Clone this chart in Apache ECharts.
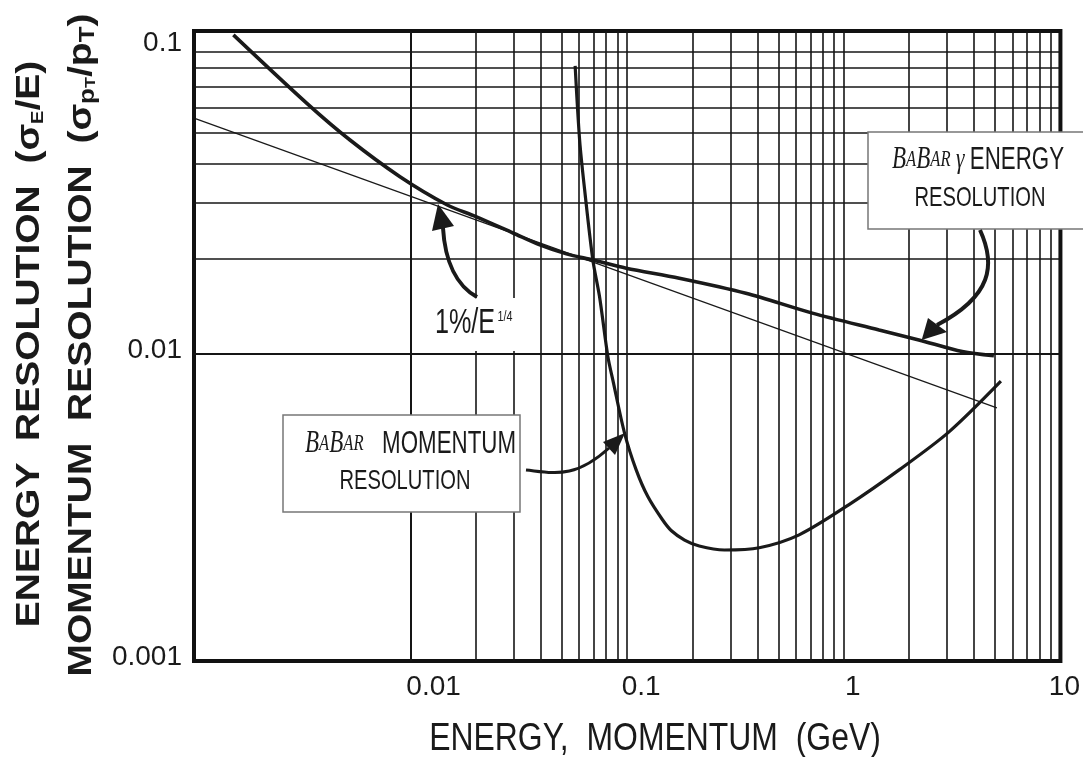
<!DOCTYPE html>
<html>
<head>
<meta charset="utf-8">
<script src="https://cdn.jsdelivr.net/npm/echarts@6/dist/echarts.min.js"></script>
<style>
html,body{margin:0;padding:0;background:#fff;}
#chart{width:1083px;height:757px;}
</style>
</head>
<body>
<div id="chart"></div>
<script>
// ---- data ----
const xTickValues = [0.01, 0.1, 1, 10];
const xTickLabels = ['0.01', '0.1', '1', '10'];
const yTickValues = [0.1, 0.01, 0.00107];
const yTickLabels = ['0.1', '0.01', '0.001'];

const xGridValues = [0.002,0.003,0.004,0.005,0.006,0.007,0.008,0.009,
  0.01,0.02,0.03,0.04,0.05,0.06,0.07,0.08,0.09,
  0.1,0.2,0.3,0.4,0.5,0.6,0.7,0.8,0.9,
  1,2,3,4,5,6,7,8,9];
const yGridValues = [0.002,0.003,0.004,0.005,0.006,0.007,0.008,0.009,
  0.01,0.02,0.03,0.04,0.05,0.06,0.07,0.08,0.09];

// BaBar gamma energy resolution (thick upper curve)
const gammaEnergyRes = [
  [0.00152,0.1019],[0.00332,0.0619],[0.00525,0.0474],[0.00893,0.0363],
  [0.0147,0.0296],[0.0199,0.0272],[0.0297,0.0241],[0.0395,0.0221],
  [0.0524,0.0207],[0.0694,0.0198],[0.099,0.01866],[0.174,0.01735],
  [0.353,0.01555],[0.716,0.01345],[1.455,0.0119],[2.22,0.01107],
  [3.52,0.01017],[4.93,0.00986]
];
// BaBar momentum resolution (steep curve with minimum)
const momentumRes = [
  [0.0575,0.0813],[0.0603,0.0474],[0.0636,0.0330],[0.0694,0.0198],
  [0.0745,0.01517],[0.0814,0.00981],[0.0858,0.00828],[0.0972,0.00562],
  [0.110,0.0043],[0.1245,0.00354],[0.1455,0.00299],[0.160,0.00276],
  [0.184,0.00258],[0.215,0.00247],[0.281,0.0024],[0.407,0.00244],
  [0.622,0.00268],[1.057,0.00334],[1.80,0.0043],[3.06,0.00567],[5.31,0.0082]
];
// thin reference line 1%/E^(1/4)
const stochasticTerm = [[0.001,0.0556],[5.09,0.00675]];

// ---- chart ----
const chart = echarts.init(document.getElementById('chart'), null, {renderer:'canvas'});
const INK = '#1a1a1a';
const NARROW = '"Liberation Sans Narrow","Liberation Sans",Arial,sans-serif';
const SANS = '"Liberation Sans",Arial,sans-serif';
const SERIF = '"Liberation Serif","DejaVu Serif",serif';

function idxOf(arr, v){
  for (let i=0;i<arr.length;i++){ if (Math.abs(Math.log10(arr[i]) - Math.log10(v)) < 1e-6) return i; }
  return -1;
}
const xRich = {};
const xPad = [46, 28, 18, 8];
xTickLabels.forEach((t,i)=>{ xRich['x'+i] = {fontFamily:NARROW, fontSize:28, color:INK, padding:[0,0,0,xPad[i]]}; });
const yRich = {
  y0:{fontFamily:NARROW, fontSize:28, color:INK, padding:[11,0,0,0]},
  y1:{fontFamily:NARROW, fontSize:28, color:INK, padding:[0,0,8,0]},
  y2:{fontFamily:NARROW, fontSize:28, color:INK, padding:[0,0,7,0]}
};

const gridLineStyle = {type:'solid', color:'#161616', width:1.6, opacity:1};
const markData = [];
xGridValues.forEach(v=>markData.push({xAxis:v}));
yGridValues.forEach(v=>markData.push({yAxis:v}));

const option = {
  animation:false,
  backgroundColor:'#fff',
  grid:{left:194, right:20, top:31, bottom:96, show:true, borderColor:'#111', borderWidth:4, backgroundColor:'transparent', z:5},
  xAxis:{
    type:'log', logBase:10, min:0.001, max:10,
    axisLine:{show:false}, axisTick:{show:false}, splitLine:{show:false},
    axisLabel:{
      customValues:xTickValues, margin:12,
      fontFamily:NARROW, fontSize:28, color:INK,
      formatter:function(v){ const i = idxOf(xTickValues, v); return i<0 ? '' : '{x'+i+'|'+xTickLabels[i]+'}'; },
      rich:xRich
    }
  },
  yAxis:{
    type:'log', logBase:10, min:0.00107, max:0.1048,
    axisLine:{show:false}, axisTick:{show:false}, splitLine:{show:false},
    axisLabel:{
      customValues:yTickValues, margin:12,
      fontFamily:NARROW, fontSize:28, color:INK,
      formatter:function(v){ const i = idxOf(yTickValues, v); return i<0 ? '' : '{y'+i+'|'+yTickLabels[i]+'}'; },
      rich:yRich
    }
  },
  series:[
    {
      type:'line', name:'grid', data:[], z:1, silent:true,
      markLine:{silent:true, symbol:['none','none'], label:{show:false}, lineStyle:gridLineStyle, data:markData, animation:false}
    },
    {
      type:'line', name:'1%/E^1/4', data:stochasticTerm, z:3, showSymbol:false, silent:true,
      lineStyle:{color:INK, width:1.2}
    },
    {
      type:'line', name:'gamma', data:gammaEnergyRes, z:4, showSymbol:false, silent:true,
      smooth:0.3, lineStyle:{color:INK, width:3.6, cap:'butt'}
    },
    {
      type:'line', name:'momentum', data:momentumRes, z:4, showSymbol:false, silent:true,
      smooth:0.3, lineStyle:{color:INK, width:3.2, cap:'butt'}
    }
  ],
  graphic:[
    // y-axis titles (rotated)
    {type:'text', x:30, y:344, rotation:Math.PI/2, scaleY:0.85, z:20,
      style:{text:'ENERGY  RESOLUTION  (σ{s|E}/E)', fontFamily:SANS, fontWeight:'bold', fontSize:39, fill:INK,
        align:'center', verticalAlign:'middle',
        rich:{s:{fontFamily:SANS, fontWeight:'bold', fontSize:20, fill:INK, verticalAlign:'bottom'}}}},
    {type:'text', x:82, y:345, rotation:Math.PI/2, scaleY:0.85, z:20,
      style:{text:'MOMENTUM  RESOLUTION  (σ{s|p}{ss|T}/p{s|T})', fontFamily:SANS, fontWeight:'bold', fontSize:39, fill:INK,
        align:'center', verticalAlign:'middle',
        rich:{s:{fontFamily:SANS, fontWeight:'bold', fontSize:26, fill:INK, verticalAlign:'bottom'},
              ss:{fontFamily:SANS, fontWeight:'bold', fontSize:18, fill:INK, verticalAlign:'bottom'}}}},
    // x-axis title
    {type:'text', x:655, y:740, scaleX:0.84, z:20,
      style:{text:'ENERGY,  MOMENTUM  (GeV)', fontFamily:SANS, fontSize:38, fill:INK, align:'center', verticalAlign:'middle'}},

    // gamma energy resolution box
    {type:'rect', z:20, shape:{x:868, y:132, width:230, height:97}, style:{fill:'#fff', stroke:'#777', lineWidth:1.5}},
    {type:'text', x:892, y:176, scaleX:0.72, z:21,
      style:{text:'{b|B}{a|A}{b|B}{a|AR}{g| γ }{t|ENERGY}', align:'left', verticalAlign:'bottom',
        rich:{b:{fontFamily:SERIF, fontStyle:'italic', fontSize:32, fill:INK},
              a:{fontFamily:SERIF, fontStyle:'italic', fontSize:23, fill:INK},
              g:{fontFamily:SERIF, fontStyle:'italic', fontSize:30, fill:INK},
              t:{fontFamily:SANS, fontSize:31, fill:INK}}}},
    {type:'text', x:980, y:212, scaleX:0.72, z:21,
      style:{text:'RESOLUTION', fontFamily:SANS, fontSize:28, fill:INK, align:'center', verticalAlign:'bottom'}},
    // arrow to gamma curve
    {type:'bezierCurve', z:21, shape:{x1:980,y1:230,cpx1:996,cpy1:265,cpx2:992,cpy2:296,x2:937,y2:325},
      style:{stroke:INK, lineWidth:4, fill:null}},
    {type:'polygon', z:21, shape:{points:[[921.7,340],[928,318],[947,332]]}, style:{fill:INK}},

    // momentum resolution box
    {type:'rect', z:20, shape:{x:283, y:415, width:237, height:97}, style:{fill:'#fff', stroke:'#777', lineWidth:1.5}},
    {type:'text', x:305, y:460, scaleX:0.72, z:21,
      style:{text:'{b|B}{a|A}{b|B}{a|AR}{t|   MOMENTUM}', align:'left', verticalAlign:'bottom',
        rich:{b:{fontFamily:SERIF, fontStyle:'italic', fontSize:32, fill:INK},
              a:{fontFamily:SERIF, fontStyle:'italic', fontSize:23, fill:INK},
              t:{fontFamily:SANS, fontSize:31, fill:INK}}}},
    {type:'text', x:405, y:495, scaleX:0.72, z:21,
      style:{text:'RESOLUTION', fontFamily:SANS, fontSize:28, fill:INK, align:'center', verticalAlign:'bottom'}},
    // arrow to momentum curve
    {type:'bezierCurve', z:21, shape:{x1:526,y1:470,cpx1:555,cpy1:473,cpx2:575,cpy2:479,x2:609,y2:448},
      style:{stroke:INK, lineWidth:3, fill:null}},
    {type:'polygon', z:21, shape:{points:[[625,433],[603,442],[615,455]]}, style:{fill:INK}},

    // 1%/E^1/4 label
    {type:'rect', z:20, shape:{x:418, y:298, width:104, height:53}, style:{fill:'#fff'}},
    {type:'text', x:465, y:341, scaleX:0.72, z:21,
      style:{text:'1%/E', fontFamily:SANS, fontSize:35, fill:INK, align:'center', verticalAlign:'bottom'}},
    {type:'text', x:505, y:324, scaleX:0.72, z:21,
      style:{text:'1/4', fontFamily:SANS, fontSize:15, fill:INK, align:'center', verticalAlign:'bottom'}},
    {type:'bezierCurve', z:21, shape:{x1:443,y1:228,cpx1:445,cpy1:262,cpx2:457,cpy2:286,x2:477,y2:297},
      style:{stroke:INK, lineWidth:4, fill:null}},
    {type:'polygon', z:21, shape:{points:[[438,204],[432,231],[454,226]]}, style:{fill:INK}}
  ]
};
chart.setOption(option);
</script>
</body>
</html>
